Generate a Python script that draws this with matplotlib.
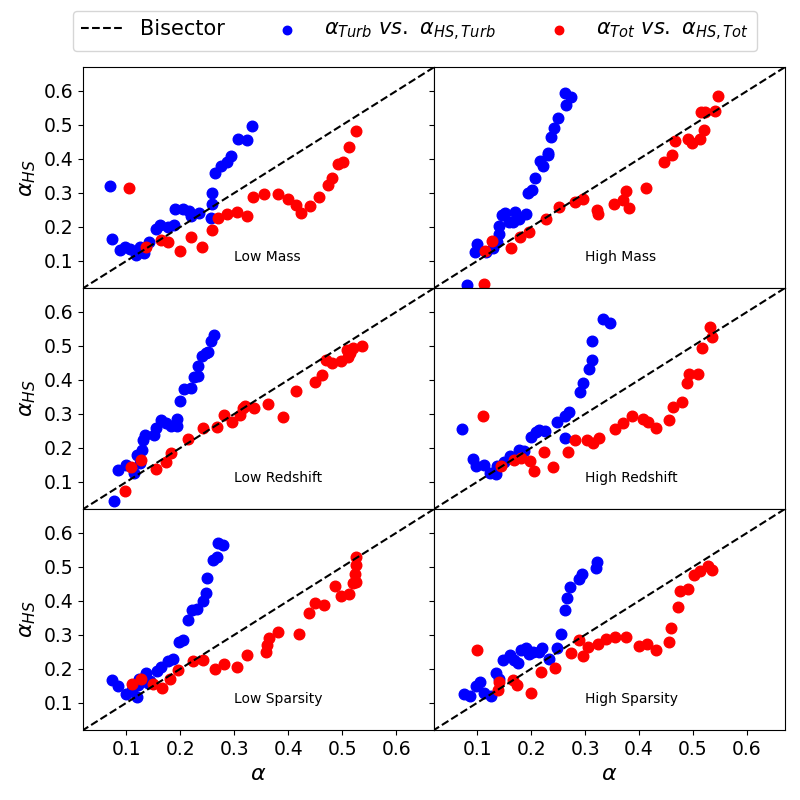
import numpy as np
import matplotlib
matplotlib.use("Agg")
import matplotlib.pyplot as plt

# alpha vs alpha_HS for each subsample
# Low Mass
lm_turb_x = [0.070, 0.073, 0.088, 0.097, 0.106, 0.117, 0.125, 0.133, 0.142, 0.154, 0.162, 0.177, 0.188, 0.191,
             0.204, 0.216, 0.219, 0.234, 0.256, 0.259, 0.259, 0.264, 0.276, 0.286, 0.294, 0.307, 0.324, 0.333]
lm_turb_y = [0.321, 0.164, 0.132, 0.142, 0.134, 0.117, 0.142, 0.123, 0.157, 0.195, 0.206, 0.199, 0.206, 0.252,
             0.252, 0.248, 0.232, 0.240, 0.225, 0.268, 0.299, 0.360, 0.379, 0.392, 0.409, 0.458, 0.455, 0.496]
lm_tot_x = [0.105, 0.137, 0.165, 0.177, 0.199, 0.220, 0.240, 0.259, 0.269, 0.286, 0.305, 0.323, 0.335,
            0.355, 0.381, 0.399, 0.415, 0.423, 0.441, 0.457, 0.473, 0.481, 0.492, 0.501, 0.512, 0.525]
lm_tot_y = [0.315, 0.142, 0.162, 0.157, 0.129, 0.170, 0.140, 0.190, 0.225, 0.238, 0.243, 0.232, 0.287,
            0.296, 0.296, 0.282, 0.264, 0.240, 0.261, 0.288, 0.323, 0.344, 0.384, 0.391, 0.434, 0.481]

# High Mass
hm_turb_x = [0.081, 0.096, 0.099, 0.117, 0.129, 0.137, 0.140, 0.141, 0.146, 0.151, 0.159, 0.166, 0.171, 0.178,
             0.190, 0.194, 0.201, 0.208, 0.222, 0.217, 0.231, 0.231, 0.236, 0.242, 0.249, 0.264, 0.262, 0.274]
hm_turb_y = [0.028, 0.125, 0.150, 0.127, 0.137, 0.157, 0.179, 0.203, 0.234, 0.240, 0.214, 0.216, 0.245, 0.223,
             0.237, 0.299, 0.309, 0.344, 0.379, 0.394, 0.412, 0.417, 0.466, 0.490, 0.520, 0.559, 0.593, 0.581]
hm_tot_x = [0.112, 0.114, 0.127, 0.162, 0.180, 0.196, 0.227, 0.251, 0.281, 0.297, 0.322, 0.323, 0.353, 0.370,
            0.376, 0.382, 0.413, 0.446, 0.461, 0.466, 0.490, 0.498, 0.513, 0.520, 0.515, 0.522, 0.541, 0.546]
hm_tot_y = [0.032, 0.129, 0.159, 0.137, 0.170, 0.185, 0.223, 0.259, 0.273, 0.281, 0.250, 0.238, 0.268, 0.279,
            0.306, 0.256, 0.314, 0.390, 0.411, 0.452, 0.459, 0.446, 0.459, 0.484, 0.537, 0.539, 0.540, 0.585]

# Low Redshift
lz_turb_x = [0.077, 0.085, 0.099, 0.114, 0.120, 0.125, 0.129, 0.131, 0.135, 0.152, 0.154, 0.165, 0.174, 0.183,
             0.194, 0.194, 0.199, 0.206, 0.219, 0.225, 0.232, 0.232, 0.241, 0.247, 0.252, 0.256, 0.262]
lz_turb_y = [0.045, 0.136, 0.150, 0.125, 0.180, 0.156, 0.194, 0.222, 0.239, 0.238, 0.259, 0.281, 0.274, 0.264,
             0.264, 0.285, 0.337, 0.374, 0.377, 0.409, 0.412, 0.440, 0.470, 0.479, 0.482, 0.513, 0.532]
lz_tot_x = [0.098, 0.109, 0.127, 0.155, 0.173, 0.183, 0.215, 0.242, 0.268, 0.281, 0.296, 0.310, 0.316, 0.320,
            0.336, 0.362, 0.390, 0.414, 0.449, 0.462, 0.469, 0.481, 0.498, 0.509, 0.511, 0.515, 0.520, 0.537]
lz_tot_y = [0.074, 0.145, 0.163, 0.139, 0.159, 0.185, 0.226, 0.259, 0.262, 0.297, 0.275, 0.297, 0.316, 0.324,
            0.318, 0.328, 0.292, 0.366, 0.395, 0.413, 0.460, 0.451, 0.457, 0.488, 0.468, 0.480, 0.493, 0.501]

# High Redshift
hz_turb_x = [0.072, 0.092, 0.098, 0.112, 0.123, 0.135, 0.136, 0.149, 0.160, 0.177, 0.186, 0.199, 0.209,
             0.215, 0.225, 0.248, 0.262, 0.262, 0.270, 0.291, 0.296, 0.307, 0.312, 0.312, 0.334, 0.346]
hz_turb_y = [0.257, 0.166, 0.148, 0.149, 0.125, 0.124, 0.146, 0.158, 0.176, 0.194, 0.192, 0.232, 0.246,
             0.254, 0.251, 0.275, 0.230, 0.295, 0.307, 0.365, 0.390, 0.433, 0.460, 0.513, 0.580, 0.566]
hz_tot_x = [0.110, 0.144, 0.169, 0.181, 0.197, 0.205, 0.223, 0.241, 0.268, 0.281, 0.303, 0.315, 0.325, 0.356,
            0.370, 0.386, 0.407, 0.417, 0.431, 0.455, 0.462, 0.479, 0.488, 0.493, 0.509, 0.516, 0.531, 0.535]
hz_tot_y = [0.295, 0.146, 0.163, 0.169, 0.161, 0.133, 0.188, 0.145, 0.189, 0.224, 0.222, 0.214, 0.230, 0.257,
            0.273, 0.295, 0.284, 0.276, 0.259, 0.281, 0.321, 0.336, 0.390, 0.416, 0.418, 0.495, 0.557, 0.527]

# Low Sparsity
ls_turb_x = [0.073, 0.085, 0.100, 0.111, 0.119, 0.122, 0.123, 0.136, 0.140, 0.144, 0.157, 0.165, 0.177,
             0.186, 0.198, 0.204, 0.214, 0.222, 0.231, 0.242, 0.248, 0.249, 0.260, 0.268, 0.269, 0.279]
ls_turb_y = [0.166, 0.148, 0.127, 0.137, 0.117, 0.151, 0.171, 0.188, 0.159, 0.163, 0.193, 0.204, 0.223,
             0.230, 0.279, 0.285, 0.343, 0.373, 0.376, 0.399, 0.423, 0.466, 0.521, 0.530, 0.571, 0.565]
ls_tot_x = [0.111, 0.128, 0.149, 0.166, 0.181, 0.196, 0.223, 0.242, 0.264, 0.280, 0.305, 0.323, 0.358, 0.361,
            0.364, 0.381, 0.420, 0.438, 0.449, 0.466, 0.486, 0.498, 0.512, 0.520, 0.526, 0.523, 0.525, 0.525]
ls_tot_y = [0.156, 0.171, 0.156, 0.145, 0.169, 0.197, 0.223, 0.225, 0.199, 0.213, 0.205, 0.242, 0.249, 0.271,
            0.290, 0.308, 0.303, 0.365, 0.393, 0.388, 0.444, 0.415, 0.420, 0.453, 0.455, 0.480, 0.506, 0.529]

# High Sparsity
hs_turb_x = [0.075, 0.086, 0.098, 0.106, 0.112, 0.126, 0.135, 0.141, 0.148, 0.160, 0.169, 0.175, 0.181, 0.191,
             0.196, 0.204, 0.215, 0.220, 0.233, 0.248, 0.256, 0.262, 0.266, 0.272, 0.288, 0.294, 0.320, 0.322]
hs_turb_y = [0.127, 0.119, 0.150, 0.161, 0.130, 0.120, 0.189, 0.171, 0.225, 0.240, 0.225, 0.216, 0.254, 0.260,
             0.245, 0.250, 0.250, 0.260, 0.228, 0.262, 0.303, 0.373, 0.408, 0.442, 0.465, 0.479, 0.497, 0.513]
hs_tot_x = [0.100, 0.138, 0.140, 0.166, 0.174, 0.200, 0.219, 0.244, 0.274, 0.288, 0.296, 0.306, 0.324, 0.339,
            0.356, 0.376, 0.399, 0.415, 0.431, 0.455, 0.459, 0.472, 0.475, 0.490, 0.501, 0.513, 0.527, 0.536]
hs_tot_y = [0.255, 0.137, 0.161, 0.166, 0.153, 0.130, 0.191, 0.201, 0.246, 0.286, 0.239, 0.263, 0.274, 0.287,
            0.293, 0.293, 0.267, 0.272, 0.255, 0.279, 0.319, 0.382, 0.428, 0.436, 0.477, 0.488, 0.503, 0.491]

panel_names = ["Low Mass", "High Mass", "Low Redshift", "High Redshift", "Low Sparsity", "High Sparsity"]
turb = [(lm_turb_x, lm_turb_y), (hm_turb_x, hm_turb_y), (lz_turb_x, lz_turb_y),
        (hz_turb_x, hz_turb_y), (ls_turb_x, ls_turb_y), (hs_turb_x, hs_turb_y)]
tot = [(lm_tot_x, lm_tot_y), (hm_tot_x, hm_tot_y), (lz_tot_x, lz_tot_y),
       (hz_tot_x, hz_tot_y), (ls_tot_x, ls_tot_y), (hs_tot_x, hs_tot_y)]

lim = (0.02, 0.67)

#%%
fig, axes = plt.subplots(3, 2, figsize=(8, 8), dpi=100, sharex=True, sharey=True)
fig.subplots_adjust(left=0.104, right=0.981, bottom=0.0875, top=0.916, wspace=0, hspace=0)

for i, ax in enumerate(axes.flat):
    bis, = ax.plot([0, 1], [0, 1], 'k--', label="Bisector")
    s1 = ax.scatter(*turb[i], c='b', s=58, label=r"$\alpha_{Turb}\ vs.\ \alpha_{HS,Turb}$")
    s2 = ax.scatter(*tot[i], c='r', s=58, label=r"$\alpha_{Tot}\ vs.\ \alpha_{HS,Tot}$")
    ax.text(0.3, 0.1, panel_names[i], fontsize=10)
    ax.set_xlim(lim)
    ax.set_ylim(lim)
    ax.set_xticks([0.1, 0.2, 0.3, 0.4, 0.5, 0.6])
    ax.set_yticks([0.1, 0.2, 0.3, 0.4, 0.5, 0.6])
    ax.tick_params(labelsize=13.5)
    if i % 2 == 0:
        ax.set_ylabel(r"$\alpha_{HS}$", fontsize=16)
    if i >= 4:
        ax.set_xlabel(r"$\alpha$", fontsize=16)

fig.legend(handles=[bis, s1, s2], loc='center', bbox_to_anchor=(0.519, 0.961), ncol=3,
           fontsize=15, markerscale=0.8, columnspacing=2.0)
fig.savefig("out.png")
